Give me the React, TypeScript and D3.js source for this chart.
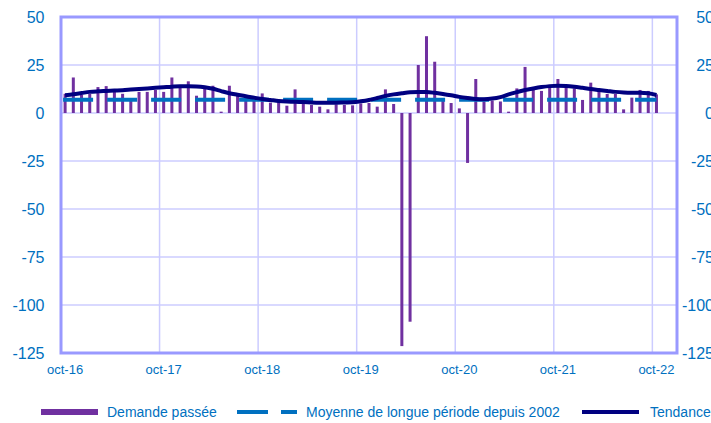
import * as d3 from 'd3';

// categories: one per month, oct-16 .. dec-22 (last ones empty)
const months = d3.timeMonth.range(new Date(2016, 9, 1), new Date(2023, 0, 1));
const tickLabels = ['oct-16', 'oct-17', 'oct-18', 'oct-19', 'oct-20', 'oct-21', 'oct-22'];
const yTicks = [50, 25, 0, -25, -50, -75, -100, -125];

// Demande passée, oct-16 .. oct-22
const demandePassee = [
  10, 18.5, 9.5, 10, 13.5, 14, 11, 10, 7, 11, 11, 12,
  11, 18.5, 14.5, 16.5, 9, 12.8, 14.2, 0.7, 14.2, 8.9, 8, 6.8,
  10.2, 5.4, 6.4, 3.8, 12.3, 5, 4.2, 3.3, 1.9, 4.5, 4.2, 4,
  5, 5.2, 3.3, 12.3, 4.7, -121.4, -108.7, 25, 40, 26.7, 7, 5.2,
  2.4, -26, 17.7, 6, 6.5, 6, 0.7, 12.8, 24, 12, 11.5, 14.6,
  17.7, 13.7, 12.8, 6.8, 15.8, 11.1, 9.9, 9.9, 1.9, 8, 12, 11.5,
  9.7,
];

// Tendance
const tendance = [
  9.3, 9.8, 10.4, 11.0, 11.3, 11.5, 11.7, 11.9, 12.2, 12.5, 12.8, 13.1,
  13.4, 13.7, 13.9, 13.9, 13.8, 13.4, 12.6, 11.4, 10.3, 9.5, 8.7, 8.0,
  7.3, 6.8, 6.3, 6.0, 5.8, 5.7, 5.5, 5.4, 5.4, 5.4, 5.5, 5.6,
  6.1, 6.8, 7.8, 8.9, 9.7, 10.3, 10.8, 10.9, 10.9, 10.5, 9.9, 9.2,
  8.4, 7.8, 7.3, 7.2, 7.5, 8.3, 9.7, 10.9, 12.0, 12.8, 13.5, 14.0,
  14.2, 14.1, 13.7, 13.1, 12.5, 12.0, 11.5, 11.0, 10.7, 10.6, 10.6, 10.3,
  9.4,
];

// Moyenne de longue période depuis 2002
const moyenneLongue = 6.9;

const W = 711;
const H = 423;
const plot = { left: 61, right: 677, top: 17, bottom: 353 };
const font = '"Liberation Sans", Arial, sans-serif';
const blue = '#0070c0';
const purple = '#7030a0';
const navy = '#000080';

export default function App() {
  const x = d3
    .scaleBand<number>()
    .domain(d3.range(months.length))
    .range([plot.left, plot.right]);
  const bw = x.bandwidth();
  const cx = (i: number) => (x(i) ?? 0) + bw / 2;

  const y = d3.scaleLinear().domain([-125, 50]).range([plot.bottom, plot.top]);

  const trendLine = d3
    .line<number>()
    .x((_, i) => cx(i))
    .y((d) => y(d))
    .curve(d3.curveMonotoneX);

  const lastIdx = demandePassee.length - 1;

  return (
    <svg
      width={W}
      height={H}
      style={{ position: 'absolute', left: 0, top: 0, display: 'block', background: '#fff' }}
      fontFamily={font}
    >
      {/* horizontal gridlines */}
      {yTicks.map((t) => (
        <line key={`h${t}`} x1={plot.left} x2={plot.right} y1={y(t)} y2={y(t)} stroke="#ccccff" strokeWidth={1.5} />
      ))}
      {/* vertical gridlines, one per year */}
      {tickLabels.map((_, k) => (
        <line
          key={`v${k}`}
          x1={x(k * 12)}
          x2={x(k * 12)}
          y1={plot.top}
          y2={plot.bottom}
          stroke="#ccccff"
          strokeWidth={1.5}
        />
      ))}

      {/* bars */}
      {demandePassee.map((v, i) => (
        <rect
          key={`b${i}`}
          x={cx(i) - 1.5}
          width={3}
          y={Math.min(y(v), y(0))}
          height={Math.abs(y(v) - y(0))}
          fill={purple}
        />
      ))}

      {/* long-term average */}
      <line
        x1={cx(0) - 2}
        x2={cx(lastIdx)}
        y1={y(moyenneLongue)}
        y2={y(moyenneLongue)}
        stroke={blue}
        strokeWidth={4}
        strokeDasharray="30 14"
      />

      {/* trend */}
      <path d={trendLine(tendance) ?? ''} fill="none" stroke={navy} strokeWidth={4} />

      {/* frame */}
      <rect
        x={plot.left}
        y={plot.top}
        width={plot.right - plot.left}
        height={plot.bottom - plot.top}
        fill="none"
        stroke="#9999ff"
        strokeWidth={3}
      />

      {/* y labels, both sides */}
      {yTicks.map((t) => (
        <g key={`yl${t}`} fill={blue} fontSize={16} dominantBaseline="central">
          <text x={44.5} y={y(t)} textAnchor="end">{t}</text>
          <text x={714} y={y(t)} textAnchor="end">{t}</text>
        </g>
      ))}

      {/* x labels */}
      {tickLabels.map((lab, k) => (
        <text key={lab} x={cx(k * 12)} y={369} textAnchor="middle" fill={blue} fontSize={13} dominantBaseline="central">
          {lab}
        </text>
      ))}

      {/* legend */}
      <g fontSize={14} fill={blue} dominantBaseline="central">
        <rect x={41} y={409} width={57} height={6} fill={purple} />
        <text x={107} y={412}>Demande passée</text>
        <line x1={237} x2={297} y1={412} y2={412} stroke={blue} strokeWidth={4} strokeDasharray="31 13" />
        <text x={306} y={412}>Moyenne de longue période depuis 2002</text>
        <line x1={582} x2={639} y1={412} y2={412} stroke={navy} strokeWidth={4} />
        <text x={650} y={412}>Tendance</text>
      </g>
    </svg>
  );
}
